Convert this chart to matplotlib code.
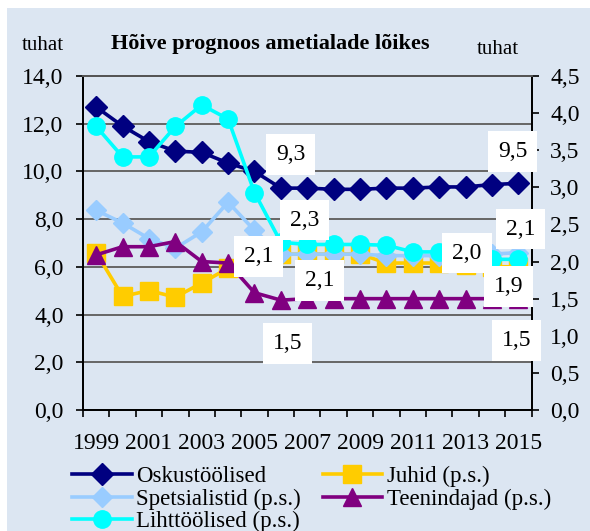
import numpy as np
import matplotlib
matplotlib.use("Agg")
import matplotlib.pyplot as plt
from matplotlib.patches import Rectangle
from matplotlib.ticker import FuncFormatter, MultipleLocator

plt.rcParams['font.family'] = ['Liberation Serif', 'DejaVu Serif']

years = list(range(1999, 2016))
year_labels = [str(y) for y in years[::2]]

oskus = [12.7, 11.9, 11.25, 10.85, 10.8, 10.35, 10.0, 9.3, 9.3, 9.25, 9.25, 9.3, 9.3, 9.35, 9.35, 9.45, 9.5]
juhid = [2.12, 1.53, 1.61, 1.52, 1.71, 1.91, 2.05, 2.1, 2.1, 2.1, 2.1, 1.98, 1.98, 1.98, 1.95, 1.93, 1.93]
spets = [2.69, 2.52, 2.31, 2.18, 2.40, 2.80, 2.42, 2.1, 2.1, 2.1, 2.1, 2.08, 2.08, 2.08, 2.08, 2.1, 2.12]
teen = [2.09, 2.20, 2.20, 2.27, 2.0, 1.98, 1.58, 1.48, 1.5, 1.5, 1.5, 1.5, 1.5, 1.5, 1.5, 1.5, 1.5]
liht = [3.82, 3.41, 3.41, 3.82, 4.11, 3.92, 2.93, 2.26, 2.23, 2.23, 2.23, 2.22, 2.13, 2.13, 2.08, 2.03, 2.03]

BG = '#DCE6F2'
W, H = 590, 531

fig = plt.figure(figsize=(W / 100, H / 100), dpi=100)
fig.patch.set_facecolor('white')
fig.patches.append(Rectangle((7 / W, 0), 1 - 7 / W, (H - 8) / H, transform=fig.transFigure,
                             facecolor=BG, edgecolor='none', zorder=-10))

ax1 = fig.add_axes([83 / W, 1 - 410 / H, (531.5 - 83) / W, (410 - 76) / H])
ax1.set_facecolor(BG)
ax2 = ax1.twinx()
ax2.patch.set_visible(False)

x = np.arange(len(years))
lw = 2.6

l_osk, = ax1.plot(x, oskus, color='#000080', lw=lw, marker='D', ms=11.5, zorder=3,
                  label='Oskustöölised')
l_juh, = ax2.plot(x, juhid, color='#FFCC00', lw=lw, marker='s', ms=12.5, zorder=2,
                  label='Juhid (p.s.)')
l_spe, = ax2.plot(x, spets, color='#99CCFF', lw=lw, marker='D', ms=10.5, zorder=3,
                  label='Spetsialistid (p.s.)')
l_tee, = ax2.plot(x, teen, color='#800080', lw=lw, marker='^', ms=13, zorder=4,
                  label='Teenindajad (p.s.)')
l_lih, = ax2.plot(x, liht, color='#00FFFF', lw=lw, marker='o', ms=12.5, zorder=5,
                  label='Lihttöölised (p.s.)')

ax1.set_xlim(-0.5, len(years) - 0.5)
ax1.set_ylim(0, 14)
ax2.set_ylim(0, 4.5)

fmt = FuncFormatter(lambda v, p: f"{v:.1f}".replace('.', ','))
ax1.yaxis.set_major_locator(MultipleLocator(2))
ax1.yaxis.set_major_formatter(fmt)
ax2.yaxis.set_major_locator(MultipleLocator(0.5))
ax2.yaxis.set_major_formatter(fmt)

ax1.set_xticks(x[::2])
ax1.set_xticklabels(year_labels)
ax1.set_xticks(np.arange(-0.5, len(years), 1), minor=True)
ax1.tick_params(axis='x', which='major', length=0, pad=16.5, labelsize=17)
ax1.tick_params(axis='x', which='minor', length=5, width=1.2, direction='out', color='black')
ax1.tick_params(axis='y', length=5, width=1.2, direction='out', pad=9, labelsize=17)
ax2.tick_params(axis='y', length=5, width=1.2, direction='out', pad=8.5, labelsize=17)

ax1.grid(axis='y', color='#666666', lw=1.4)
ax1.set_axisbelow(True)

for ax in (ax1, ax2):
    for s in ('left', 'right', 'bottom'):
        ax.spines[s].set_color('black')
        ax.spines[s].set_linewidth(1.3)
    ax.spines['top'].set_color('#555555')
    ax.spines['top'].set_linewidth(1.4)


def lab(v):
    return f"{v:.1f}".replace('.', ',')


bbox = dict(boxstyle='square,pad=0.42', fc='white', ec='none')
i06 = years.index(2006)
i15 = years.index(2015)
labels = [
    (ax1, oskus, i06, (7, 24)),
    (ax1, oskus, i15, (-4, 23)),
    (ax2, liht, i06, (17, 16)),
    (ax2, spets, i06, (-16, -1.5)),
    (ax2, juhid, i06, (28, -19)),
    (ax2, teen, i06, (4.6, -31)),
    (ax2, spets, i15, (1.7, 17)),
    (ax2, liht, i15, (-37, 4.5)),
    (ax2, juhid, i15, (-7, -14)),
    (ax2, teen, i15, (-1.2, -30)),
]
for axx, series, idx, off in labels:
    ax2.annotate(lab(series[idx]), xy=(x[idx], series[idx]), xycoords=axx.transData,
                 xytext=off, textcoords='offset points', ha='center', va='center',
                 fontsize=17, bbox=bbox, zorder=10, annotation_clip=False)

fig.text(270 / W, 1 - 49.5 / H, 'Hõive prognoos ametialade lõikes', ha='center', va='baseline',
         fontsize=16, fontweight='bold')
fig.text(22 / W, 1 - 50 / H, 'tuhat', ha='left', va='baseline', fontsize=15)
fig.text(477 / W, 1 - 54 / H, 'tuhat', ha='left', va='baseline', fontsize=15)

handles = [l_osk, l_spe, l_lih, l_juh, l_tee]
fig.legend(handles=handles, labels=[h.get_label() for h in handles], ncol=2,
           loc='upper left', bbox_to_anchor=(72 / W, 1 - 466 / H), frameon=False,
           fontsize=16.5, handlelength=2.6, handletextpad=0.2, columnspacing=0.95,
           labelspacing=0.05, borderpad=0, borderaxespad=0)

fig.savefig('out.png', dpi=100, facecolor='white')
